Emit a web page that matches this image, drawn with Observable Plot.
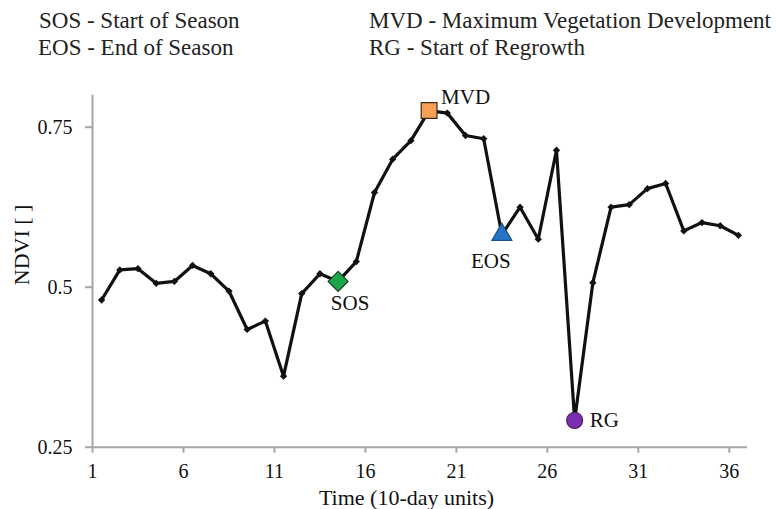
<!DOCTYPE html>
<html>
<head>
<meta charset="utf-8">
<script src="https://cdn.jsdelivr.net/npm/d3@7"></script>
<script src="https://cdn.jsdelivr.net/npm/@observablehq/plot@0.6"></script>
<style>
  body { margin: 0; background: #fff; }
  #legend { position: relative; width: 776px; height: 62px; font-family: "Liberation Serif", "Times New Roman", serif; font-size: 23px; color: #222; }
  #legend span { position: absolute; white-space: nowrap; line-height: 26px; }
  #chart svg { display: block; }
</style>
</head>
<body>
<div id="legend"></div>
<div id="chart"></div>
<script>
// ---- data ----
const time = [1.5, 2.5, 3.5, 4.5, 5.5, 6.5, 7.5, 8.5, 9.5, 10.5, 11.5, 12.5, 13.5, 14.5, 15.5, 16.5, 17.5, 18.5,
              19.5, 20.5, 21.5, 22.5, 23.5, 24.5, 25.5, 26.5, 27.5, 28.5, 29.5, 30.5, 31.5, 32.5, 33.5, 34.5, 35.5, 36.5];
const ndvi = [0.480, 0.527, 0.529, 0.506, 0.509, 0.534, 0.521, 0.494, 0.434, 0.447, 0.361, 0.490, 0.521, 0.509, 0.540, 0.648, 0.700, 0.729,
              0.776, 0.772, 0.737, 0.732, 0.582, 0.625, 0.575, 0.714, 0.292, 0.507, 0.625, 0.629, 0.654, 0.662, 0.588, 0.601, 0.596, 0.581];
const eventNames = ["SOS", "MVD", "EOS", "RG"];
const eventTime = [14.5, 19.5, 23.5, 27.5];
const eventNdvi = [0.509, 0.776, 0.582, 0.292];
const legendItems = ["SOS - Start of Season", "MVD - Maximum Vegetation Development", "EOS - End of Season", "RG - Start of Regrowth"];
const xTicks = [1, 6, 11, 16, 21, 26, 31, 36];
const yTicks = [0.25, 0.5, 0.75];
const xLabel = "Time (10-day units)";
const yLabel = "NDVI [ ]";

// ---- styles ----
const eventStyle = {
  SOS: {symbol: "diamond2", fill: "#1ca64b", stroke: "#1f3a25", r: 9, dx: 12, dy: 22, textAnchor: "middle"},
  MVD: {symbol: "square", fill: "#f7a053", stroke: "#3a2a1a", r: 8.9, dx: 12, dy: -13, textAnchor: "start"},
  EOS: {symbol: "triangle", fill: "#2575c4", stroke: "#1d4f86", r: 7.4, dx: -11, dy: 27, textAnchor: "middle"},
  RG:  {symbol: "circle", fill: "#7b2fb0", stroke: "#4a1d6c", r: 8, dx: 15, dy: 0, textAnchor: "start"}
};
const legendPos = [[39, 8], [369, 8], [38, 35], [369, 35]];

// legend header
const legend = document.getElementById("legend");
legendItems.forEach((t, i) => {
  const s = document.createElement("span");
  s.textContent = t;
  s.style.left = legendPos[i][0] + "px";
  s.style.top = legendPos[i][1] + "px";
  legend.appendChild(s);
});

const series = time.map((t, i) => ({t, v: ndvi[i]}));
const events = eventNames.map((name, i) => ({name, t: eventTime[i], v: eventNdvi[i]}));

const axisColor = "#a6a6a6";

const chart = Plot.plot({
  width: 776,
  height: 447,
  marginTop: 32.7,
  marginBottom: 62.3,
  marginLeft: 92,
  marginRight: 29,
  x: {domain: [1, 37]},
  y: {domain: [0.25, 0.8]},
  style: {fontFamily: "Liberation Serif, Times New Roman, serif", fontSize: "20px", color: "#111", background: "white", overflow: "visible"},
  marks: [
    Plot.ruleX([1], {stroke: axisColor, strokeWidth: 2}),
    Plot.ruleY([0.25], {stroke: axisColor, strokeWidth: 2}),
    Plot.axisX({ticks: xTicks, tickSize: 6, tickPadding: 11, stroke: axisColor, strokeWidth: 2, fill: "#111", tickFormat: d => String(d), label: null}),
    Plot.axisY({ticks: yTicks, tickSize: 7, tickPadding: 13, stroke: axisColor, strokeWidth: 2, fill: "#111", tickFormat: d => String(d), label: null}),
    Plot.line(series, {x: "t", y: "v", stroke: "#111", strokeWidth: 3.2, strokeLinejoin: "round"}),
    Plot.dot(series, {x: "t", y: "v", symbol: "diamond2", r: 3.3, fill: "#111"}),
    ...events.flatMap(e => {
      const s = eventStyle[e.name];
      return [
        Plot.dot([e], {x: "t", y: "v", symbol: s.symbol, r: s.r, fill: s.fill, stroke: s.stroke, strokeWidth: 1.2}),
        Plot.text([e], {x: "t", y: "v", text: "name", dx: s.dx, dy: s.dy, textAnchor: s.textAnchor, fontSize: 21, fill: "#111"})
      ];
    }),
    Plot.text([yLabel], {frameAnchor: "left", rotate: -90, dx: -71, dy: 14, fontSize: 22, fill: "#111"}),
    Plot.text([xLabel], {frameAnchor: "bottom", dx: -13.5, dy: 58, fontSize: 22, fill: "#111"})
  ]
});
document.getElementById("chart").appendChild(chart);
</script>
</body>
</html>
